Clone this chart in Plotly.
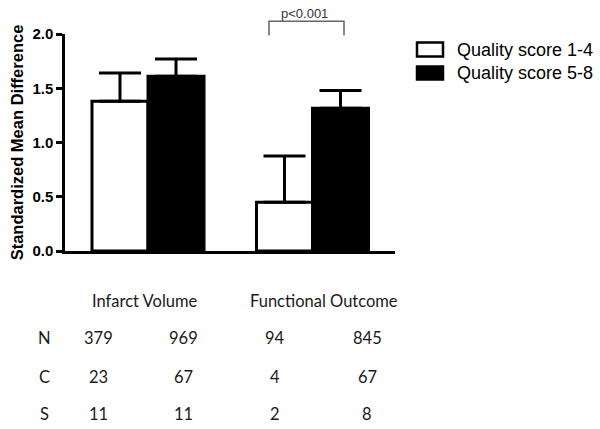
import plotly.graph_objects as go

# ---- data ----
categories = ["Infarct Volume", "Functional Outcome"]
series_names = ["Quality score 1-4", "Quality score 5-8"]
low_values = [1.38, 0.45]
low_errors = [0.26, 0.425]
high_values = [1.61, 1.315]
high_errors = [0.16, 0.165]
y_ticks = [0.0, 0.5, 1.0, 1.5, 2.0]
row_labels = ["N", "C", "S"]
table_values = [
    ["379", "969", "94", "845"],
    ["23", "67", "4", "67"],
    ["11", "11", "2", "8"],
]
p_label = "p<0.001"

W, H = 600, 429
# plot area in page pixels: x 65..395, y 33.5..250.7
ML = 65
MT = 33.5
PW = 330
PH = 250.7 - 33.5
MR = W - ML - PW
MB = H - MT - PH


def px_x(px):
    return (px - ML) / PW


def px_y(py):
    return (MT + PH - py) / PH


xs = [0, 1]
fig = go.Figure()
fig.add_trace(go.Bar(
    x=xs, y=low_values, name=series_names[0],
    marker=dict(color="white", line=dict(color="black", width=3)),
    error_y=dict(type="data", symmetric=False, array=low_errors,
                 arrayminus=[0, 0], color="black", thickness=3, width=21),
    showlegend=False, hoverinfo="skip",
))
fig.add_trace(go.Bar(
    x=xs, y=high_values, name=series_names[1],
    marker=dict(color="black", line=dict(color="black", width=3)),
    error_y=dict(type="data", symmetric=False, array=high_errors,
                 arrayminus=[0, 0], color="black", thickness=3, width=21),
    showlegend=False, hoverinfo="skip",
))

unit = 164.5
x0 = (148 - 65) / unit
fig.update_layout(
    width=W, height=H,
    margin=dict(l=ML, r=MR, t=MT, b=MB, pad=0, autoexpand=False),
    paper_bgcolor="white", plot_bgcolor="white",
    barmode="group", bargap=0.319, bargroupgap=0,
    xaxis=dict(range=[-x0, PW / unit - x0], showticklabels=False,
               ticks="", showgrid=False, zeroline=False, automargin=False,
               showline=True, linecolor="black", linewidth=2.5),
    yaxis=dict(range=[0, 2.0], tickvals=y_ticks,
               ticktext=[f"{v:.1f}" for v in y_ticks],
               ticks="outside", ticklen=6, tickwidth=2.5, tickcolor="black",
               showgrid=False, zeroline=False, automargin=False,
               showline=True, linecolor="black", linewidth=2.5,
               tickfont=dict(family="Arial, Liberation Sans", size=15,
                             color="black", weight="bold"),
               title=dict(text="Standardized Mean Difference", standoff=5,
                          font=dict(family="Arial, Liberation Sans", size=16.5,
                                    color="black", weight="bold"))),
    font=dict(family="Arial, Liberation Sans"),
)

# significance bracket
bx0 = (269 - 65) / unit - x0
bx1 = (344 - 65) / unit - x0
fig.add_shape(type="path", xref="x", yref="paper",
              path=f"M {bx0},{px_y(35)} L {bx0},{px_y(20.7)} L {bx1},{px_y(20.7)} L {bx1},{px_y(35)}",
              line=dict(color="#666666", width=1.5))
fig.add_annotation(x=(bx0 + bx1) / 2 - 0.01, y=px_y(13), xref="x", yref="paper",
                   xanchor="center", yanchor="middle",
                   text=p_label, showarrow=False,
                   font=dict(family="Arial, Liberation Sans", size=13, color="#333333"))

# legend (drawn manually)
leg_y = [(42, 56), (66, 79)]
leg_text_y = [50, 73]
leg_fill = ["white", "black"]
for i, name in enumerate(series_names):
    fig.add_shape(type="rect", xref="paper", yref="paper",
                  x0=px_x(417), x1=px_x(443), y0=px_y(leg_y[i][1]), y1=px_y(leg_y[i][0]),
                  line=dict(color="black", width=2.5), fillcolor=leg_fill[i])
    fig.add_annotation(x=px_x(455), y=px_y(leg_text_y[i]), xref="paper", yref="paper",
                       xanchor="left", yanchor="middle", text=name, showarrow=False,
                       font=dict(family="Arial, Liberation Sans", size=18, color="black"))

# table below chart
tfont = dict(family="Lato", size=16.5, color="#1a1a1a")
cat_x = [144.5, 323.5]
for cx, cat in zip(cat_x, categories):
    fig.add_annotation(x=px_x(cx), y=px_y(301), xref="paper", yref="paper",
                       xanchor="center", yanchor="middle",
                       text=cat, showarrow=False, font=tfont)
row_y = [338, 377, 414]
col_x = [98, 183, 275, 367]
for ry, lab, vals in zip(row_y, row_labels, table_values):
    fig.add_annotation(x=px_x(44), y=px_y(ry), xref="paper", yref="paper",
                       xanchor="center", yanchor="middle",
                       text=lab, showarrow=False, font=tfont)
    for cx, v in zip(col_x, vals):
        fig.add_annotation(x=px_x(cx), y=px_y(ry), xref="paper", yref="paper",
                           xanchor="center", yanchor="middle",
                           text=v, showarrow=False, font=tfont)

# remove the default page margin so the 600x429 figure fills the window
fig.write_html("out.html",
               config={"displayModeBar": False},
               post_script="document.body.style.margin='0px';document.body.style.overflow='hidden';")
